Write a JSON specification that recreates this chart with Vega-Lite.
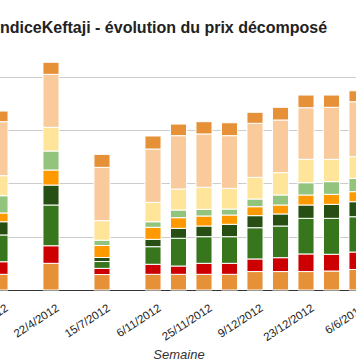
{
  "$schema": "https://vega.github.io/schema/vega-lite/v6.json",
  "width": 356,
  "height": 250,
  "autosize": {"type": "none"},
  "padding": {"left": 0, "top": 40, "right": 0, "bottom": 74},
  "background": "white",
  "title": {
    "text": "IndiceKeftaji - évolution du prix décomposé",
    "anchor": "start",
    "frame": "group",
    "dx": -4.5,
    "dy": 16,
    "offset": 7,
    "baseline": "alphabetic",
    "fontSize": 16,
    "fontWeight": "bold",
    "font": "Liberation Sans",
    "color": "#222222"
  },
  "data": {
    "values": [
      {"semaine": "8/4/2012", "c1": 1.47, "c2": 1.18, "c3": 2.51, "c4": 1.24, "c5": 0.82, "c6": 1.62, "c7": 1.88, "c8": 5.06, "c9": 1.00},
      {"semaine": "22/4/2012", "c1": 2.50, "c2": 1.65, "c3": 3.82, "c4": 1.87, "c5": 1.41, "c6": 1.78, "c7": 2.22, "c8": 4.97, "c9": 1.13},
      {"semaine": "15/7/2012", "c1": 1.45, "c2": 0.58, "c3": 0.64, "c4": 0.38, "c5": 1.12, "c6": 0.50, "c7": 1.83, "c8": 5.00, "c9": 1.22},
      {"semaine": "6/11/2012", "c1": 1.47, "c2": 0.94, "c3": 1.65, "c4": 0.69, "c5": 1.13, "c6": 0.52, "c7": 1.82, "c8": 5.00, "c9": 1.22},
      {"semaine": "18/11/2012", "c1": 1.47, "c2": 0.78, "c3": 2.60, "c4": 0.93, "c5": 1.00, "c6": 0.72, "c7": 1.97, "c8": 5.00, "c9": 1.09},
      {"semaine": "25/11/2012", "c1": 1.47, "c2": 1.03, "c3": 2.50, "c4": 1.00, "c5": 0.94, "c6": 0.62, "c7": 2.07, "c8": 5.00, "c9": 1.15},
      {"semaine": "2/12/2012", "c1": 1.47, "c2": 1.03, "c3": 2.50, "c4": 1.16, "c5": 0.87, "c6": 0.56, "c7": 1.94, "c8": 4.94, "c9": 1.21},
      {"semaine": "9/12/2012", "c1": 1.73, "c2": 1.18, "c3": 2.93, "c4": 1.13, "c5": 0.84, "c6": 0.72, "c7": 2.03, "c8": 5.07, "c9": 1.03},
      {"semaine": "16/12/2012", "c1": 1.73, "c2": 1.30, "c3": 2.97, "c4": 1.13, "c5": 0.84, "c6": 0.94, "c7": 2.09, "c8": 4.94, "c9": 1.19},
      {"semaine": "23/12/2012", "c1": 1.73, "c2": 1.65, "c3": 3.34, "c4": 1.25, "c5": 0.94, "c6": 1.15, "c7": 2.19, "c8": 4.84, "c9": 1.19},
      {"semaine": "30/12/2012", "c1": 1.78, "c2": 1.57, "c3": 3.37, "c4": 1.31, "c5": 0.94, "c6": 1.19, "c7": 2.09, "c8": 4.88, "c9": 1.15},
      {"semaine": "6/6/2013", "c1": 1.92, "c2": 1.64, "c3": 3.31, "c4": 1.41, "c5": 0.94, "c6": 1.25, "c7": 2.03, "c8": 5.15, "c9": 1.03}
    ]
  },
  "transform": [
    {"fold": ["c1", "c2", "c3", "c4", "c5", "c6", "c7", "c8", "c9"], "as": ["composante", "valeur"]}
  ],
  "mark": {"type": "bar", "stroke": "white", "strokeWidth": 1},
  "encoding": {
    "x": {
      "field": "semaine",
      "type": "nominal",
      "scale": {
        "domain": ["8/4/2012", "15/4/2012", "22/4/2012", "29/4/2012", "15/7/2012", "22/7/2012", "6/11/2012", "18/11/2012", "25/11/2012", "2/12/2012", "9/12/2012", "16/12/2012", "23/12/2012", "30/12/2012", "6/6/2013"],
        "range": [-12.75, 369.75],
        "paddingInner": 0.37,
        "paddingOuter": 0.185
      },
      "axis": {
        "values": ["8/4/2012", "22/4/2012", "15/7/2012", "6/11/2012", "25/11/2012", "9/12/2012", "23/12/2012", "6/6/2013"],
        "labelAngle": -33,
        "labelFontSize": 11.5,
        "labelColor": "#222222",
        "labelFont": "Liberation Sans",
        "labelOverlap": false,
        "labelPadding": 12,
        "labelOffset": 4,
        "ticks": false,
        "grid": false,
        "domainColor": "#333333",
        "title": "Semaine",
        "titleFont": "Liberation Sans",
        "titleFontStyle": "italic",
        "titleFontWeight": "normal",
        "titleFontSize": 13,
        "titleColor": "#333333",
        "titlePadding": 6
      }
    },
    "y": {
      "field": "valeur",
      "type": "quantitative",
      "stack": "zero",
      "scale": {"domain": [0, 23.44], "nice": false},
      "axis": {
        "values": [5, 10, 15, 20],
        "grid": true,
        "gridColor": "#cccccc",
        "labels": false,
        "ticks": false,
        "domain": false,
        "title": null
      }
    },
    "color": {
      "field": "composante",
      "type": "nominal",
      "scale": {
        "domain": ["c1", "c2", "c3", "c4", "c5", "c6", "c7", "c8", "c9"],
        "range": ["#E69138", "#CC0000", "#38761D", "#274E13", "#FF9900", "#93C47D", "#FFE599", "#F9CB9C", "#E69138"]
      },
      "legend": null
    },
    "order": {"field": "composante", "type": "ordinal", "sort": "ascending"}
  },
  "config": {"view": {"stroke": null}, "font": "Liberation Sans"}
}
